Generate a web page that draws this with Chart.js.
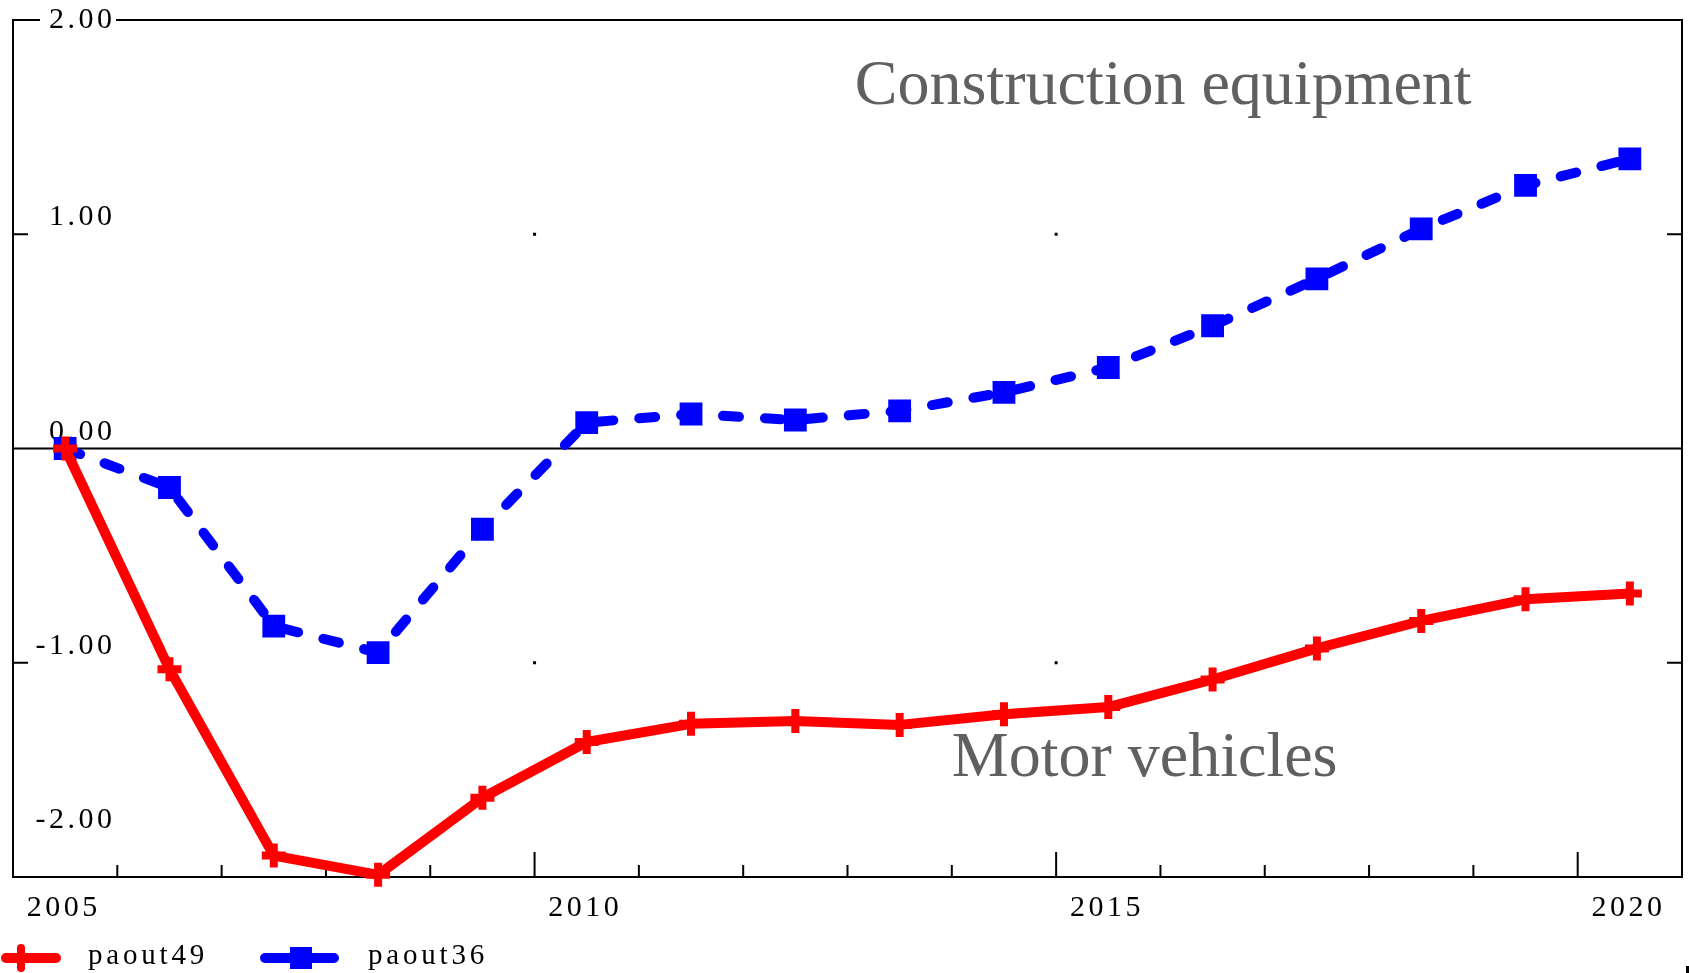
<!DOCTYPE html>
<html>
<head>
<meta charset="utf-8">
<script src="https://cdn.jsdelivr.net/npm/chart.js"></script>
<style>
  html, body { margin: 0; padding: 0; background: #fff; }
</style>
</head>
<body>
<canvas id="myChart" width="1689" height="973"></canvas>
<script>
// Annual observations, plotted in the middle of each year
const years = [2005, 2006, 2007, 2008, 2009, 2010, 2011, 2012, 2013, 2014, 2015, 2016, 2017, 2018, 2019, 2020];
const paout49 = [0.00, -1.03, -1.90, -1.99, -1.63, -1.37, -1.285, -1.272, -1.29, -1.24, -1.207, -1.078, -0.933, -0.805, -0.704, -0.677];
const paout36 = [0.00, -0.182, -0.829, -0.953, -0.377, 0.121, 0.161, 0.133, 0.176, 0.262, 0.378, 0.573, 0.792, 1.025, 1.228, 1.352];

const yTickValues = [2, 1, 0, -1, -2];
const yTickLabels = ['2.00', '1.00', '0.00', '-1.00', '-2.00'];
const xLabelYears = [2005, 2010, 2015, 2020];
const xLabels = ['2005', '2010', '2015', '2020'];
const annotationTexts = ['Construction equipment', 'Motor vehicles'];

const SERIF = '"Liberation Serif", "Times New Roman", serif';
const SP = 3.5; // letter spacing of axis text

function toPoints(vals) {
  return vals.map((v, i) => ({ x: years[i] + 0.5, y: v }));
}

// draws the OxMetrics-style frame, ticks and labels
const frame = {
  id: 'frame',
  beforeDatasetsDraw(chart) {
    const ctx = chart.ctx;
    const a = chart.chartArea;
    const xs = chart.scales.x, ys = chart.scales.y;
    ctx.save();
    ctx.strokeStyle = '#000';
    ctx.lineWidth = 2;
    ctx.beginPath();
    ctx.rect(a.left, a.top, a.right - a.left, a.bottom - a.top);
    ctx.stroke();

    // zero line
    const y0 = ys.getPixelForValue(0);
    ctx.beginPath();
    ctx.moveTo(a.left, y0);
    ctx.lineTo(a.right, y0);
    ctx.stroke();

    // x ticks, inward
    for (let yr = 2006; yr <= 2020; yr++) {
      const px = xs.getPixelForValue(yr);
      const len = yr % 5 === 0 ? 25 : 12;
      ctx.beginPath();
      ctx.moveTo(px, a.bottom);
      ctx.lineTo(px, a.bottom - len);
      ctx.stroke();
    }

    // y ticks, inward on both sides
    [1, -1].forEach(v => {
      const py = ys.getPixelForValue(v);
      ctx.beginPath();
      ctx.moveTo(a.left, py); ctx.lineTo(a.left + 15, py);
      ctx.moveTo(a.right, py); ctx.lineTo(a.right - 15, py);
      ctx.stroke();
    });

    // grid dots
    ctx.fillStyle = '#000';
    [2010, 2015].forEach(yr => {
      [1, -1].forEach(v => {
        ctx.fillRect(xs.getPixelForValue(yr) - 1.5, ys.getPixelForValue(v) - 1.5, 3, 3);
      });
    });

    // y labels
    ctx.font = '30px ' + SERIF;
    ctx.letterSpacing = SP + 'px';
    ctx.textAlign = 'left';
    yTickValues.forEach((v, i) => {
      const py = ys.getPixelForValue(v);
      const txt = yTickLabels[i];
      const w = ctx.measureText(txt).width - SP;
      const right = a.left + 99;
      if (v === ys.max) {
        ctx.fillStyle = '#fff';
        ctx.fillRect(a.left + 27, py - 4, 76, 8);
        ctx.fillStyle = '#000';
        ctx.textBaseline = 'middle';
        ctx.fillText(txt, right - w, py);
      } else {
        ctx.fillStyle = '#000';
        ctx.textBaseline = 'alphabetic';
        const by = v === ys.min ? py - 49 : py - 9;
        ctx.fillText(txt, right - w, by);
      }
    });

    // x labels
    ctx.textBaseline = 'alphabetic';
    xLabelYears.forEach((yr, i) => {
      const w = ctx.measureText(xLabels[i]).width - SP;
      const px = xs.getPixelForValue(yr + 0.47);
      ctx.fillText(xLabels[i], px - w / 2, a.bottom + 39);
    });

    // small mark in the bottom-right corner
    ctx.fillRect(chart.width - 3, chart.height - 7, 3, 7);
    ctx.restore();
  },
  afterDatasetsDraw(chart) {
    const ctx = chart.ctx;
    const xs = chart.scales.x, ys = chart.scales.y;
    ctx.save();
    ctx.fillStyle = '#606060';
    ctx.font = '64px ' + SERIF;
    ctx.textBaseline = 'alphabetic';
    ctx.fillText(annotationTexts[0], xs.getPixelForValue(2013.07), ys.getPixelForValue(1.606));
    ctx.fillText(annotationTexts[1], xs.getPixelForValue(2014.0), ys.getPixelForValue(-1.53));

    // legend
    const ly = 958;
    ctx.font = '29px ' + SERIF;
    ctx.letterSpacing = '3.8px';
    ctx.textBaseline = 'middle';
    ctx.lineCap = 'round';
    const ds = chart.data.datasets;
    // red
    ctx.strokeStyle = ds[0].borderColor;
    ctx.lineWidth = 10;
    ctx.beginPath(); ctx.moveTo(6, ly); ctx.lineTo(56, ly); ctx.stroke();
    ctx.lineWidth = 8;
    ctx.beginPath(); ctx.moveTo(21, ly - 10); ctx.lineTo(21, ly + 10); ctx.stroke();
    ctx.fillStyle = '#000';
    ctx.fillText(ds[0].label, 88, ly - 2);
    // blue
    ctx.strokeStyle = ds[1].borderColor;
    ctx.lineWidth = 10;
    ctx.beginPath(); ctx.moveTo(265, ly); ctx.lineTo(334, ly); ctx.stroke();
    ctx.fillStyle = ds[1].borderColor;
    ctx.fillRect(290, ly - 11, 22, 22);
    ctx.fillStyle = '#000';
    ctx.fillText(ds[1].label, 368, ly - 2);
    ctx.restore();
  }
};

const ctx = document.getElementById('myChart').getContext('2d');
new Chart(ctx, {
  type: 'line',
  data: {
    datasets: [
      {
        label: 'paout49',
        data: toPoints(paout49),
        borderColor: '#ff0000',
        backgroundColor: '#ff0000',
        borderWidth: 10,
        borderJoinStyle: 'round',
        borderCapStyle: 'round',
        pointStyle: 'cross',
        pointRadius: 12,
        pointBorderWidth: 8,
        pointBorderColor: '#ff0000',
        tension: 0,
        clip: false
      },
      {
        label: 'paout36',
        data: toPoints(paout36),
        borderColor: '#0000ff',
        backgroundColor: '#0000ff',
        borderWidth: 10,
        borderDash: [16, 26],
        borderJoinStyle: 'round',
        borderCapStyle: 'round',
        pointStyle: 'rect',
        pointRadius: 14,
        pointBorderWidth: 3,
        pointBackgroundColor: '#0000ff',
        pointBorderColor: '#0000ff',
        tension: 0,
        clip: false
      }
    ]
  },
  options: {
    responsive: false,
    animation: false,
    layout: { autoPadding: false, padding: { left: 13, top: 20, right: 7, bottom: 96 } },
    plugins: {
      legend: { display: false },
      tooltip: { enabled: false }
    },
    scales: {
      x: { type: 'linear', min: 2005, max: 2021, display: false },
      y: { min: -2, max: 2, display: false }
    }
  },
  plugins: [frame]
});
</script>
</body>
</html>
